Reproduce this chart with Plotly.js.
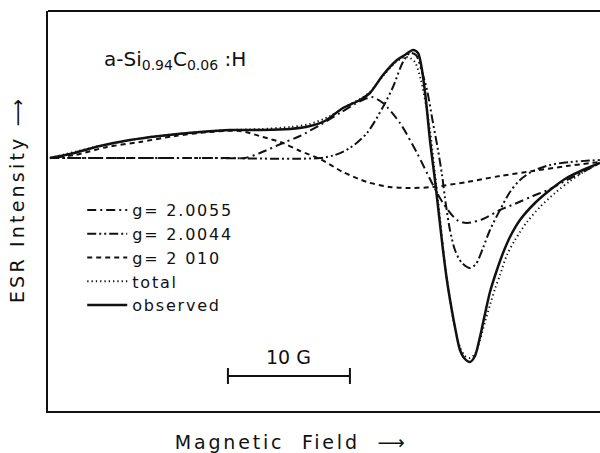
<!DOCTYPE html>
<html>
<head>
<meta charset="utf-8">
<script src="https://cdn.plot.ly/plotly-3.0.1.min.js"></script>
<style>
  html, body { margin: 0; padding: 0; background: #fff; overflow: hidden; }
  #chart { width: 600px; height: 453px; }
  .annotation[data-index="1"] text { letter-spacing: 2.8px; }
  .annotation[data-index="2"] text { letter-spacing: 3.2px; }
  .legendtext { letter-spacing: 1.8px; }
</style>
</head>
<body>
<div id="chart"></div>
<script>
// Magnetic field offset (G) and ESR intensity (arb. units)
const fieldObserved = [0.16,1.80,4.26,6.72,9.18,12.46,14.92,17.38,19.84,21.48,22.70,24.18,25.57,26.39,27.46,28.61,29.26,29.92,30.33,30.66,30.98,31.31,31.72,32.05,32.38,32.70,33.03,33.36,33.77,34.18,34.59,35.00,35.41,35.82,36.23,36.80,37.30,37.87,38.69,39.92,41.15,42.38,43.85,45.25];
const intensityObserved = [0,0.4,1.2,1.8,2.2,2.6,2.8,2.8,2.9,3.2,3.7,5.0,5.8,6.5,8.3,9.8,10.3,10.8,10.5,8.8,5.8,1.8,-2.2,-5.7,-9.2,-12.2,-14.7,-16.9,-19.2,-20.1,-20.4,-19.8,-17.9,-15.6,-13.4,-11.2,-9.5,-7.9,-6.2,-4.5,-3.2,-2.1,-1.2,-0.5];

const fieldTotal = [0.16,4.26,8.36,12.46,14.92,17.38,19.84,21.48,23.11,24.34,25.57,26.39,27.46,28.44,29.26,29.67,30.08,30.57,30.98,31.31,31.64,31.97,32.30,32.62,32.95,33.36,33.77,34.18,34.59,35.00,35.41,35.82,36.23,36.64,37.05,37.62,38.28,39.26,40.33,41.56,42.79,44.02,45.25];
const intensityTotal = [0,1.2,2.1,2.6,2.8,2.9,3.1,3.4,4.2,5.1,5.9,6.6,8.2,9.5,10.1,10.0,9.6,7.8,5.3,2.8,-0.7,-4.2,-8.0,-11.4,-14.2,-17.0,-18.9,-19.8,-20.0,-19.6,-18.2,-16.4,-14.7,-13.1,-11.7,-9.7,-8.2,-6.4,-4.9,-3.5,-2.3,-1.3,-0.5];

const fieldG20055 = [0.16,8.36,14.92,16.15,17.38,19.26,20.66,22.30,23.93,25.16,25.98,26.56,27.46,28.85,30.25,31.56,32.38,33.52,34.34,35.66,37.05,38.44,39.75,41.15,42.54,43.85,45.25];
const intensityG20055 = [0,0,0,0,0.5,1.5,2.2,3.3,4.5,5.4,5.9,6.1,5.5,3.5,0.5,-2.7,-4.5,-6.2,-6.5,-6.1,-5.2,-4.5,-3.8,-3.1,-2.2,-1.4,-0.5];

const fieldG20044 = [0.16,12.46,22.30,23.52,24.75,26.15,27.46,28.28,29.10,29.67,30.16,30.66,31.07,31.56,31.97,32.30,32.62,32.95,33.36,33.93,34.59,35.08,35.66,36.23,37.05,37.87,38.69,39.75,41.15,42.79,45.25];
const intensityG20044 = [0,0,0,0.3,1.0,2.5,5.1,7.1,9.6,10.5,10.3,8.6,6.8,3.5,0.8,-1.7,-4.7,-7.2,-9.2,-10.5,-11.0,-10.6,-9.0,-7.2,-5.2,-3.4,-2.2,-1.3,-0.7,-0.4,-0.2];

const fieldG2010 = [0.16,2.21,4.84,7.54,10.41,13.28,15.74,17.62,19.26,20.66,22.30,24.18,26.15,28.03,29.67,31.56,34.34,37.05,39.75,42.54,45.25];
const intensityG2010 = [0,0.3,1.1,1.6,2.2,2.6,2.7,2.1,1.5,0.7,-0.1,-1.4,-2.4,-2.9,-3.0,-2.9,-2.4,-1.8,-1.3,-0.8,-0.4];

const seriesNames = ["g= 2.0055", "g= 2.0044", "g= 2 010", "total", "observed"];
const scaleBarLength = 10; // G
const scaleBarLabel = "10 G";
const sampleLabel = "a-Si<sub>0.94</sub>C<sub>0.06</sub> :H";
const xTitle = "Magnetic\u00a0\u00a0Field\u00a0\u00a0\u27f6";
const yTitle = "ESR Intensity \u27f6";

const FONT = "DejaVu Sans, Arial, sans-serif";
const ink = "#111";

function tr(x, y, name, dash, width) {
  return {
    x: x, y: y, name: name, type: "scatter", mode: "lines",
    line: { color: ink, width: width, dash: dash, shape: "spline", smoothing: 0.8 },
    hoverinfo: "skip"
  };
}

const data = [
  tr(fieldG20055, intensityG20055, seriesNames[0], "9px,4px,2px,4px", 2),
  tr(fieldG20044, intensityG20044, seriesNames[1], "9px,3px,2px,3px,2px,3px", 2),
  tr(fieldG2010, intensityG2010, seriesNames[2], "5px,4px", 2),
  tr(fieldTotal, intensityTotal, seriesNames[3], "1.3px,3px", 1.9),
  tr(fieldObserved, intensityObserved, seriesNames[4], "solid", 2.5)
];

const barX0 = 14.75, barY = -21.8, tickLo = -22.6, tickHi = -21.0;

const layout = {
  width: 600, height: 453,
  margin: { l: 48, r: 0, t: 11, b: 42, pad: 0 },
  paper_bgcolor: "#fff", plot_bgcolor: "#fff",
  font: { family: FONT, color: ink },
  showlegend: true,
  legend: {
    x: 0.062, xanchor: "left", y: 0.545, yanchor: "top",
    bgcolor: "rgba(0,0,0,0)", borderwidth: 0,
    font: { family: FONT, size: 16, color: ink },
    itemwidth: 40,
    tracegroupgap: 0
  },
  xaxis: {
    range: [0, 45.25], showgrid: false, zeroline: false,
    showticklabels: false, ticks: "", showline: true, linecolor: ink, linewidth: 2
  },
  yaxis: {
    range: [-25.3, 14.7], showgrid: false, zeroline: false,
    showticklabels: false, ticks: "", showline: true, linecolor: ink, linewidth: 2
  },
  shapes: [
    { type: "line", xref: "paper", yref: "paper", x0: 0, x1: 1, y0: 1, y1: 1, line: { color: ink, width: 2 } },
    { type: "line", xref: "x", yref: "y", x0: barX0, x1: barX0 + scaleBarLength, y0: barY, y1: barY, line: { color: ink, width: 2 } },
    { type: "line", xref: "x", yref: "y", x0: barX0, x1: barX0, y0: tickLo, y1: tickHi, line: { color: ink, width: 2 } },
    { type: "line", xref: "x", yref: "y", x0: barX0 + scaleBarLength, x1: barX0 + scaleBarLength, y0: tickLo, y1: tickHi, line: { color: ink, width: 2 } }
  ],
  annotations: [
    { text: sampleLabel, xref: "paper", yref: "paper", x: 0.23, y: 0.8775, xanchor: "center", yanchor: "middle",
      showarrow: false, font: { family: FONT, size: 20, color: ink } },
    { text: xTitle, xref: "paper", yref: "paper", x: 0.44, y: -0.0775, xanchor: "center", yanchor: "middle",
      showarrow: false, font: { family: FONT, size: 19, color: ink } },
    { text: yTitle, xref: "paper", yref: "paper", x: -0.056, y: 0.5275, xanchor: "center", yanchor: "middle",
      textangle: -90, showarrow: false, font: { family: FONT, size: 19, color: ink } },
    { text: scaleBarLabel, xref: "x", yref: "y", x: barX0 + scaleBarLength / 2, y: -19.9, xanchor: "center", yanchor: "middle",
      showarrow: false, font: { family: FONT, size: 19, color: ink } }
  ]
};

Plotly.newPlot("chart", data, layout, { staticPlot: true, displayModeBar: false });
</script>
</body>
</html>
